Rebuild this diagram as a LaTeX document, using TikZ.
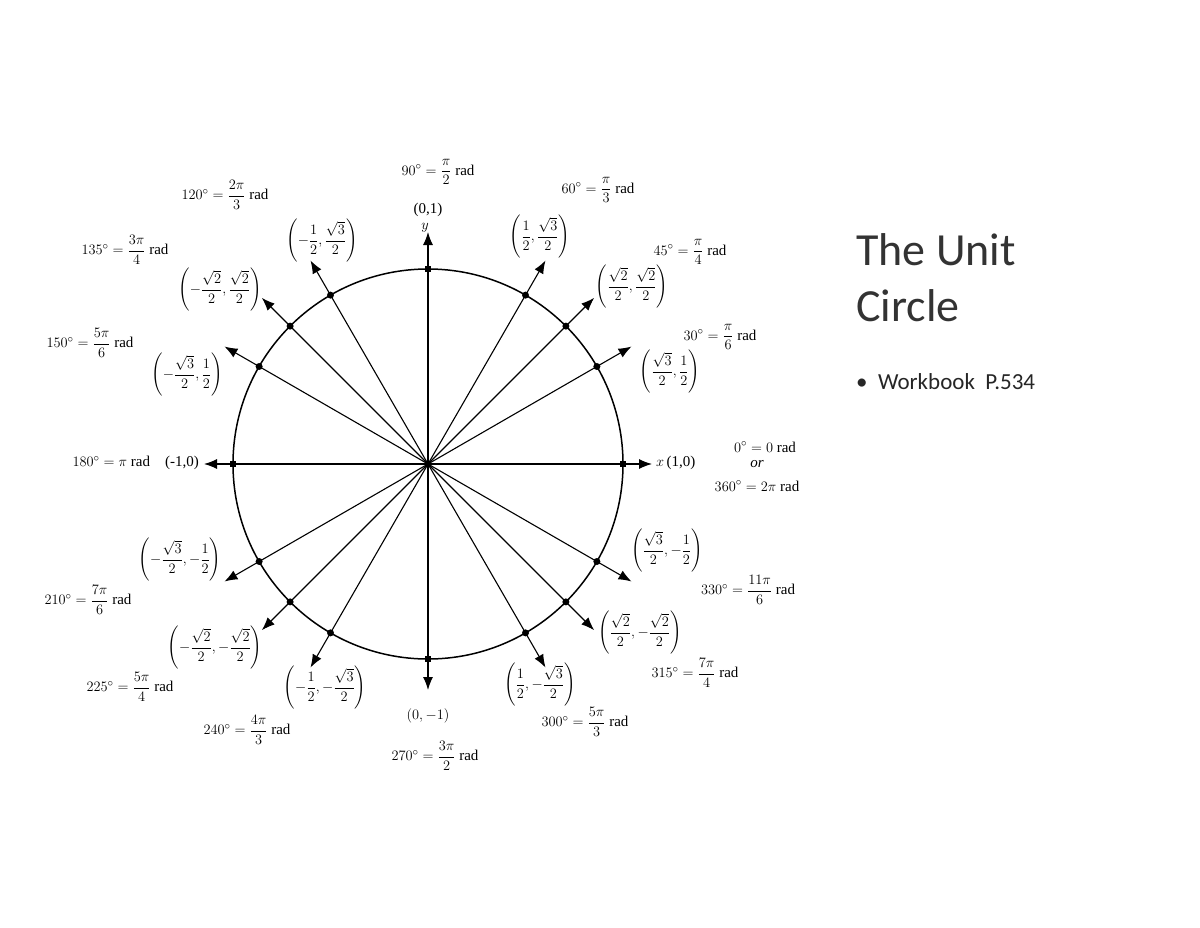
\documentclass[tikz,border=0pt]{standalone}
\usepackage{amsmath}
\usepackage{fontspec}
\setmainfont{Liberation Serif}
\newfontfamily\calib{Carlito}
\usetikzlibrary{arrows.meta}
\tikzset{
 lbl/.style={font=\fontsize{15}{17}\selectfont, inner sep=1pt},
 ray/.style={line width=1.1pt, -{Latex[length=13pt,width=10pt]}},
 dotp/.style={circle, fill=black, inner sep=0pt, minimum size=7pt}
}
\begin{document}
\begin{tikzpicture}[x=1pt,y=-1pt]
\useasboundingbox (0,0) rectangle (1200,927);
\coordinate (O) at (428,464);
\draw[line width=1.5pt] (O) circle[radius=195];
% axes
\coordinate (xe) at (652,464); \coordinate (xw) at (204,464);
\coordinate (yn) at (428,232); \coordinate (ys) at (428,690);
\draw[ray] (O) -- (xe); \draw[ray] (O) -- (xw);
\draw[ray] (O) -- (yn); \draw[ray] (O) -- (ys);
\foreach \a in {0,90,180,270}{
  \node[fill=black, inner sep=0pt, minimum size=6pt] (ax\a) at ([shift={(O)}] -\a:195) {};}
\foreach \a in {30,45,60,120,135,150,210,225,240,300,315,330}{
  \coordinate (t\a) at ([shift={(O)}] -\a:235);
  \draw[ray] (O) -- (t\a);
  \node[dotp] (d\a) at ([shift={(O)}] -\a:195) {};
}
% labels
\node[lbl] (l90) at (438,172) {$90^\circ=\dfrac{\pi}{2}$ rad};
\node[lbl] (c90) at (428,210) {(0,1)};
\node[lbl] (yl) at (425,228) {$y$};
\node[lbl] (l60) at (598,190) {$60^\circ=\dfrac{\pi}{3}$ rad};
\node[lbl] (c60) at (540,237) {$\left(\dfrac12,\dfrac{\sqrt3}{2}\right)$};
\node[lbl] (l45) at (690,252) {$45^\circ=\dfrac{\pi}{4}$ rad};
\node[lbl] (c45) at (632,287) {$\left(\dfrac{\sqrt2}{2},\dfrac{\sqrt2}{2}\right)$};
\node[lbl] (l30) at (720,337) {$30^\circ=\dfrac{\pi}{6}$ rad};
\node[lbl] (c30) at (670,372) {$\left(\dfrac{\sqrt3}{2},\dfrac12\right)$};
\node[lbl, anchor=west] (c0) at (655,463) {$x$\,(1,0)};
\node[lbl] (l0a) at (765,447) {$0^\circ=0$ rad};
\node[lbl] (l0b) at (757,464) {\itshape or};
\node[lbl] (l0c) at (757,486) {$360^\circ=2\pi$ rad};
\node[lbl] (c330) at (667,551) {$\left(\dfrac{\sqrt3}{2},-\dfrac12\right)$};
\node[lbl] (l330) at (748,590) {$330^\circ=\dfrac{11\pi}{6}$ rad};
\node[lbl] (c315) at (640,633) {$\left(\dfrac{\sqrt2}{2},-\dfrac{\sqrt2}{2}\right)$};
\node[lbl] (l315) at (695,673) {$315^\circ=\dfrac{7\pi}{4}$ rad};
\node[lbl] (c300) at (540,685) {$\left(\dfrac12,-\dfrac{\sqrt3}{2}\right)$};
\node[lbl] (l300) at (585,722) {$300^\circ=\dfrac{5\pi}{3}$ rad};
\node[lbl] (c270) at (428,716) {$(0,-1)$};
\node[lbl] (l270) at (435,756) {$270^\circ=\dfrac{3\pi}{2}$ rad};
\node[lbl] (c240) at (325,688) {$\left(-\dfrac12,-\dfrac{\sqrt3}{2}\right)$};
\node[lbl] (l240) at (247,730) {$240^\circ=\dfrac{4\pi}{3}$ rad};
\node[lbl] (c225) at (215,648) {$\left(-\dfrac{\sqrt2}{2},-\dfrac{\sqrt2}{2}\right)$};
\node[lbl] (l225) at (130,687) {$225^\circ=\dfrac{5\pi}{4}$ rad};
\node[lbl] (c210) at (180,560) {$\left(-\dfrac{\sqrt3}{2},-\dfrac12\right)$};
\node[lbl] (l210) at (88,600) {$210^\circ=\dfrac{7\pi}{6}$ rad};
\node[lbl, anchor=east] (l180) at (200,463) {$180^\circ=\pi$ rad\quad(-1,0)};
\node[lbl] (l150) at (90,343) {$150^\circ=\dfrac{5\pi}{6}$ rad};
\node[lbl] (c150) at (187,375) {$\left(-\dfrac{\sqrt3}{2},\dfrac12\right)$};
\node[lbl] (l135) at (125,250) {$135^\circ=\dfrac{3\pi}{4}$ rad};
\node[lbl] (c135) at (220,290) {$\left(-\dfrac{\sqrt2}{2},\dfrac{\sqrt2}{2}\right)$};
\node[lbl] (l120) at (225,195) {$120^\circ=\dfrac{2\pi}{3}$ rad};
\node[lbl] (c120) at (322,241) {$\left(-\dfrac12,\dfrac{\sqrt3}{2}\right)$};
% title
\node[anchor=west, inner sep=0pt, align=left, font=\calib\fontsize{46}{56}\selectfont, text=black!80] (title) at (856,278) {The Unit\\Circle};
\node[anchor=west, inner sep=0pt, font=\calib\fontsize{23}{27}\selectfont, text=black!85] (bul) at (856,382) {\textbullet\ \ Workbook\ \ P.534};
\end{tikzpicture}
\end{document}
